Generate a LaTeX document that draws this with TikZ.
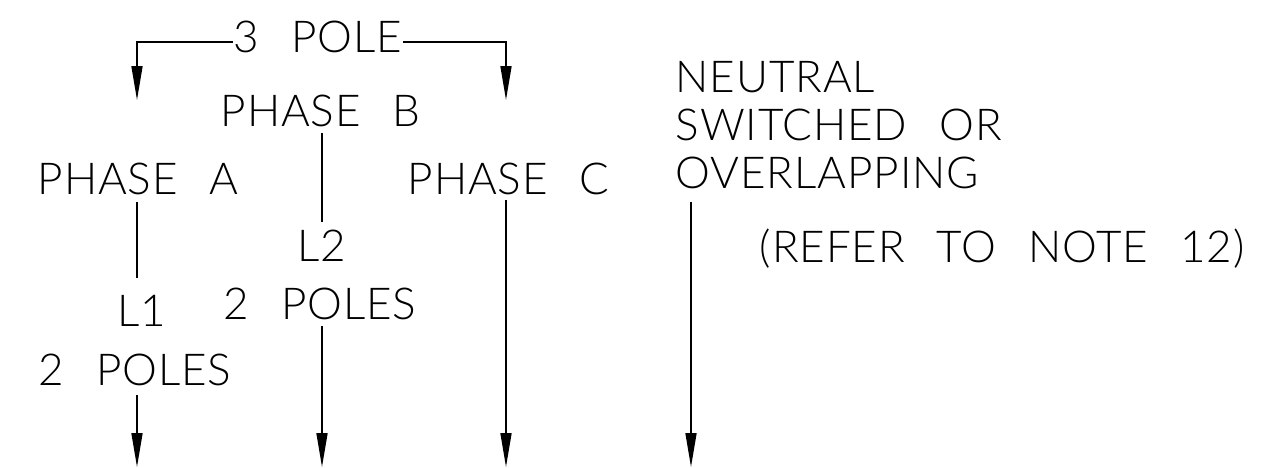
\documentclass[tikz,border=0pt]{standalone}
\usepackage{fontspec}
\newfontfamily\cad[LetterSpace=2,WordSpace=2.5]{Lato Light}
\usetikzlibrary{arrows.meta}
\begin{document}
\begin{tikzpicture}[x=1pt,y=-1pt,line width=1.6pt,
  lbl/.style={anchor=base west,inner sep=0pt,font=\cad\fontsize{44}{48}\selectfont},
  arr/.style={-{Triangle[length=34pt,width=11pt]}}]
\useasboundingbox[fill=white] (0,0) rectangle (1267,467);
% labels
\node[lbl] (pole3) at (233,52) {3 POLE};
\node[lbl] (phaseB) at (220,126) {PHASE B};
\node[lbl] (phaseA) at (37,194) {PHASE A};
\node[lbl] (phaseC) at (407,194) {PHASE C};
\node[lbl] (neu1) at (675,92) {NEUTRAL};
\node[lbl] (neu2) at (675,140) {SWITCHED OR};
\node[lbl] (neu3) at (675,188) {OVERLAPPING};
\node[lbl] (note) at (759,262) {(REFER TO NOTE 12)};
\node[lbl] (ltwo) at (297,261) {L2};
\node[lbl] (poleB) at (223,319) {2 POLES};
\node[lbl] (lone) at (117,326) {L1};
\node[lbl] (poleA) at (38,385) {2 POLES};
% coordinates
\coordinate (bL) at (137,42);
\coordinate (bR) at (506,42);
\coordinate (tL) at (137,100);
\coordinate (tR) at (506,100);
\coordinate (a1) at (137,202);
\coordinate (a2) at (137,278);
\coordinate (a3) at (137,395);
\coordinate (a4) at (137,467);
\coordinate (b1) at (322,133);
\coordinate (b2) at (322,222);
\coordinate (b3) at (322,326);
\coordinate (b4) at (322,467);
\coordinate (c1) at (506,200);
\coordinate (c4) at (506,467);
\coordinate (n1) at (691,202);
\coordinate (n4) at (691,467);
% connectors
\draw[arr] (pole3.west |- bL) -- (bL) -- (tL);
\draw[arr] (pole3.east |- bR) -- (bR) -- (tR);
\draw (a1) -- (a2);
\draw[arr] (a3) -- (a4);
\draw (b1) -- (b2);
\draw[arr] (b3) -- (b4);
\draw[arr] (c1) -- (c4);
\draw[arr] (n1) -- (n4);
\end{tikzpicture}
\end{document}
